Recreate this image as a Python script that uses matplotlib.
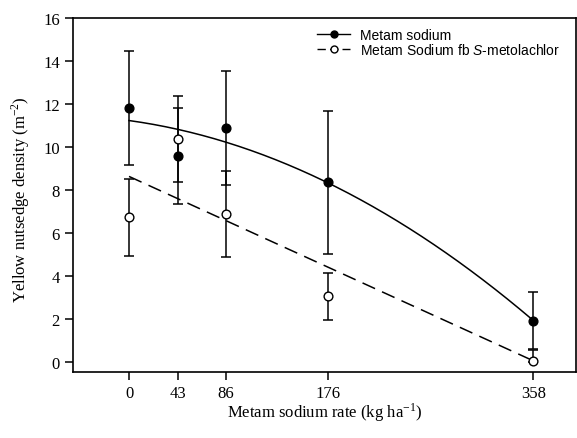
import numpy as np
import matplotlib
matplotlib.use("Agg")
import matplotlib.pyplot as plt

plt.rcParams['font.family'] = 'Liberation Serif'
plt.rcParams['mathtext.fontset'] = 'custom'
plt.rcParams['mathtext.rm'] = 'Liberation Serif'
plt.rcParams['mathtext.it'] = 'Liberation Sans:italic'

# data
rates = [0, 43, 86, 176, 358]
ms_mean = [11.80, 9.57, 10.88, 8.36, 1.92]
ms_err = [2.66, 2.23, 2.65, 3.33, 1.33]
msm_mean = [6.73, 10.37, 6.87, 3.05, 0.06]
msm_err_up = [1.79, 2.0, 2.0, 1.1, 0.5]
msm_err_lo = [1.79, 2.0, 2.0, 1.1, 0.06]  # last one cut off at zero in the original

# regression lines (coefficients, highest power first)
ms_fit = [-5.24e-5, -0.00724, 11.23]
msm_fit = [-0.02397, 8.63]

fig = plt.figure(figsize=(5.77, 4.39), dpi=100)
ax = fig.add_axes([0.1265, 0.1503, 0.8718, 0.8064])

xx = np.linspace(0, 358, 200)
ax.plot(xx, np.polyval(ms_fit, xx), color='black', lw=1.1)
ax.plot(xx, np.polyval(msm_fit, xx), color='black', lw=1.1, dashes=(9, 5))

ax.errorbar(rates, ms_mean, yerr=ms_err, fmt='o', color='black', mfc='black',
            ms=6.3, capsize=3.6, elinewidth=1.1, capthick=1.1, zorder=3)
ax.errorbar(rates, msm_mean, yerr=[msm_err_lo, msm_err_up], fmt='o', color='black',
            mfc='white', ms=6.3, capsize=3.6, elinewidth=1.1, capthick=1.1, zorder=4)

# legend handles
h1, = ax.plot([], [], '-o', color='black', mfc='black', ms=5, lw=1.0)
h2, = ax.plot([], [], 'o', color='black', mfc='white', ms=5, lw=1.0,
              ls=(0, (6, 3)))
leg = ax.legend([h1, h2], ['Metam sodium', r'Metam Sodium fb $\mathit{S}$-metolachlor'],
                loc='upper right', bbox_to_anchor=(0.993, 1.008), frameon=False,
                prop={'family': 'Liberation Sans', 'size': 10}, handlelength=2.4,
                labelspacing=0.0, handletextpad=0.7)

ax.set_xlim(-49.6, 395.7)
ax.set_ylim(-0.47, 16)
ax.set_xticks(rates)
ax.set_xticklabels([str(r) for r in rates])
ax.set_yticks(range(0, 17, 2))
ax.tick_params(direction='out', length=6, width=1.1, labelsize=12, top=False, right=False)
for s in ax.spines.values():
    s.set_linewidth(1.2)

ax.set_xlabel('Metam sodium rate (kg ha$^{-1}$)', fontsize=12)
ax.set_ylabel('Yellow nutsedge density (m$^{-2}$)', fontsize=12)
ax.xaxis.set_label_coords(0.5, -0.08)
ax.yaxis.set_label_coords(-0.081, 0.49)

fig.savefig('out.png', dpi=100)
